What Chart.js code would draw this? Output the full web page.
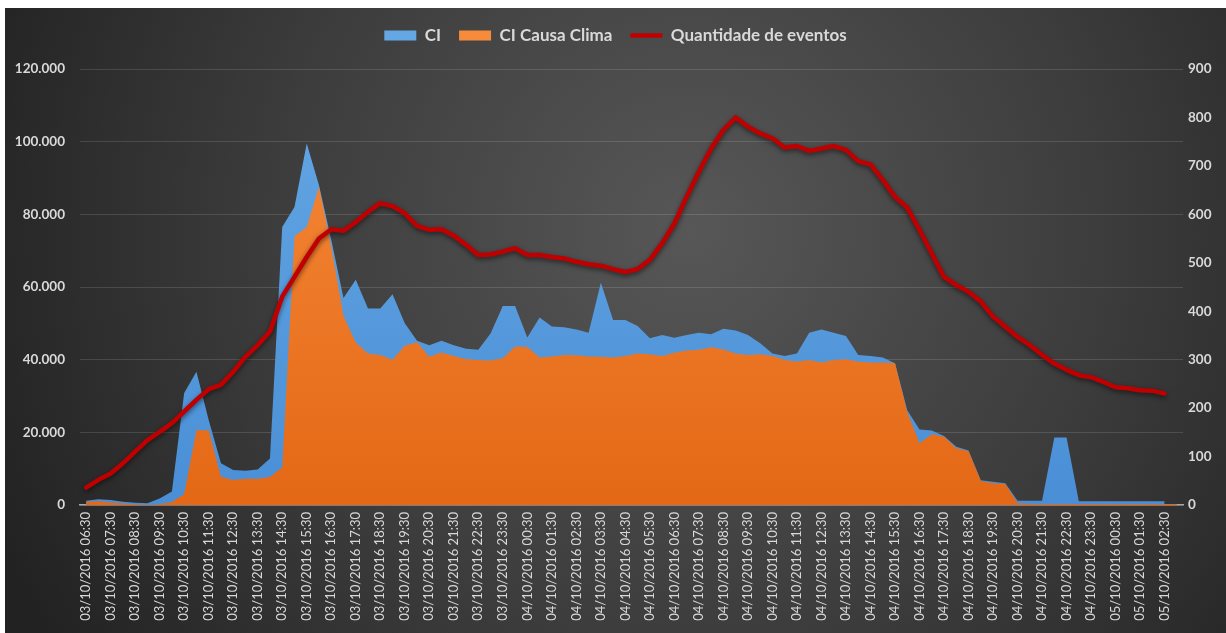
<!DOCTYPE html>
<html>
<head>
<meta charset="utf-8">
<script src="https://cdn.jsdelivr.net/npm/chart.js@4.4.0/dist/chart.umd.min.js"></script>
<style>
  html, body { margin: 0; padding: 0; background: #ffffff; }
  #wrap { width: 1226px; height: 633px; }
</style>
</head>
<body>
<div id="wrap"><canvas id="grafico" width="1226" height="633"></canvas></div>
<script>
// horarios (a cada 30 min)
const horarios = [
  "03/10/2016 06:30","03/10/2016 07:00","03/10/2016 07:30","03/10/2016 08:00","03/10/2016 08:30","03/10/2016 09:00",
  "03/10/2016 09:30","03/10/2016 10:00","03/10/2016 10:30","03/10/2016 11:00","03/10/2016 11:30","03/10/2016 12:00",
  "03/10/2016 12:30","03/10/2016 13:00","03/10/2016 13:30","03/10/2016 14:00","03/10/2016 14:30","03/10/2016 15:00",
  "03/10/2016 15:30","03/10/2016 16:00","03/10/2016 16:30","03/10/2016 17:00","03/10/2016 17:30","03/10/2016 18:00",
  "03/10/2016 18:30","03/10/2016 19:00","03/10/2016 19:30","03/10/2016 20:00","03/10/2016 20:30","03/10/2016 21:00",
  "03/10/2016 21:30","03/10/2016 22:00","03/10/2016 22:30","03/10/2016 23:00","03/10/2016 23:30",
  "04/10/2016 00:00","04/10/2016 00:30","04/10/2016 01:00","04/10/2016 01:30","04/10/2016 02:00","04/10/2016 02:30",
  "04/10/2016 03:00","04/10/2016 03:30","04/10/2016 04:00","04/10/2016 04:30","04/10/2016 05:00","04/10/2016 05:30",
  "04/10/2016 06:00","04/10/2016 06:30","04/10/2016 07:00","04/10/2016 07:30","04/10/2016 08:00","04/10/2016 08:30",
  "04/10/2016 09:00","04/10/2016 09:30","04/10/2016 10:00","04/10/2016 10:30","04/10/2016 11:00","04/10/2016 11:30",
  "04/10/2016 12:00","04/10/2016 12:30","04/10/2016 13:00","04/10/2016 13:30","04/10/2016 14:00","04/10/2016 14:30",
  "04/10/2016 15:00","04/10/2016 15:30","04/10/2016 16:00","04/10/2016 16:30","04/10/2016 17:00","04/10/2016 17:30",
  "04/10/2016 18:00","04/10/2016 18:30","04/10/2016 19:00","04/10/2016 19:30","04/10/2016 20:00","04/10/2016 20:30",
  "04/10/2016 21:00","04/10/2016 21:30","04/10/2016 22:00","04/10/2016 22:30","04/10/2016 23:00","04/10/2016 23:30",
  "05/10/2016 00:00","05/10/2016 00:30","05/10/2016 01:00","05/10/2016 01:30","05/10/2016 02:00","05/10/2016 02:30",
  "05/10/2016 03:00"
];

const ci = [
  1200, 1600, 1400, 900, 600, 500, 1800, 3700, 30800, 36700, 23400, 11500,
  9600, 9400, 9800, 12800, 76500, 82000, 99500, 88000, 73000, 57000, 62000, 54100,
  54100, 58000, 50000, 45200, 44000, 45200, 44000, 43000, 42700, 47200, 54800,
  54800, 46100, 51600, 49100, 48900, 48300, 47400, 61200, 50900, 50900, 49300,
  45900, 46800, 46000, 46800, 47400, 47000, 48500, 48000, 46800, 44500, 41700,
  41000, 41700, 47400, 48300, 47400, 46500, 41300, 41000, 40600, 39000, 26100,
  20800, 20500, 19000, 16000, 15000, 6800, 6400, 6000, 1200, 1200, 1200,
  18600, 18600, 1000, 1000, 1000, 1000, 1000, 1000, 1000, 1000, null
];

const ciClima = [
  900, 1000, 700, 400, 200, 100, 200, 800, 3000, 20600, 20600, 7800,
  6900, 7200, 7200, 7700, 10400, 74000, 76500, 87500, 71000, 52000, 44700, 41700,
  41300, 40000, 43800, 44800, 40800, 42000, 41000, 40100, 39900, 39800, 40400,
  43600, 43500, 40600, 40900, 41300, 41200, 40900, 40800, 40600, 41000, 41700,
  41500, 41000, 41900, 42500, 42700, 43400, 42800, 41700, 41300, 41500, 41000,
  39900, 39400, 39900, 39200, 39900, 40100, 39400, 39200, 39200, 39000, 25500,
  17000, 19500, 18800, 15600, 14800, 6600, 6000, 5800, 500, 300, 300,
  300, 300, 300, 300, 300, 300, 300, 300, 300, 300, 300
];

const eventos = [
  36, 52, 65, 86, 110, 134, 151, 169, 193, 217, 239, 248,
  275, 306, 330, 358, 430, 471, 512, 550, 569, 566, 584, 605,
  623, 617, 602, 576, 568, 569, 556, 537, 516, 517, 523,
  530, 516, 516, 512, 509, 502, 497, 494, 487, 481, 487,
  506, 540, 581, 636, 688, 736, 774, 800, 781, 767, 757,
  738, 741, 731, 736, 741, 733, 710, 703, 671, 636, 614,
  568, 519, 471, 454, 440, 420, 389, 368, 347, 330, 310,
  292, 279, 268, 264, 254, 243, 241, 237, 236, 230, null
];

const ticksCI = [0, 20000, 40000, 60000, 80000, 100000, 120000];
const ticksEventos = [0, 100, 200, 300, 400, 500, 600, 700, 800, 900];

Chart.defaults.font.family = 'Lato, "Open Sans", sans-serif';

function milhar(v) {
  return String(v).replace(/\B(?=(\d{3})+(?!\d))/g, '.');
}

function gradiente(c1, c2) {
  return function (ctx) {
    const area = ctx.chart.chartArea;
    if (!area) return c1;
    const g = ctx.chart.ctx.createLinearGradient(0, area.top, 0, area.bottom);
    g.addColorStop(0, c1);
    g.addColorStop(1, c2);
    return g;
  };
}

// fundo escuro com gradiente radial
const fundo = {
  id: 'fundo',
  beforeDraw(chart) {
    const ctx = chart.ctx;
    ctx.save();
    ctx.fillStyle = '#ffffff';
    ctx.fillRect(0, 0, chart.width, chart.height);
    const g = ctx.createRadialGradient(690, 230, 0, 690, 230, 760);
    g.addColorStop(0, '#575757');
    g.addColorStop(0.55, '#3c3c3c');
    g.addColorStop(1, '#222222');
    ctx.fillStyle = g;
    ctx.fillRect(5, 8, chart.width - 5, chart.height - 8);
    ctx.restore();
  }
};

// sombra na linha de eventos
const sombra = {
  id: 'sombra',
  beforeDatasetDraw(chart, args) {
    if (args.index !== 2) return;
    const ctx = chart.ctx;
    ctx.save();
    ctx.shadowColor = 'rgba(0,0,0,0.55)';
    ctx.shadowBlur = 5;
    ctx.shadowOffsetY = 2;
  },
  afterDatasetDraw(chart, args) {
    if (args.index !== 2) return;
    chart.ctx.restore();
  }
};

// altura fixa para a legenda
const alturaLegenda = {
  id: 'alturaLegenda',
  beforeInit(chart) {
    const fitOriginal = chart.legend.fit;
    chart.legend.fit = function () {
      fitOriginal.bind(chart.legend)();
      this.height = 60;
    };
  }
};

new Chart(document.getElementById('grafico'), {
  type: 'line',
  data: {
    labels: horarios,
    datasets: [
      {
        label: 'CI',
        data: ci,
        yAxisID: 'y',
        order: 3,
        fill: 'origin',
        backgroundColor: gradiente('#65a7e4', '#4a8fd6'),
        borderWidth: 0,
        pointRadius: 0,
        pointStyle: 'rect',
        tension: 0
      },
      {
        label: 'CI Causa Clima',
        data: ciClima,
        yAxisID: 'y',
        order: 2,
        fill: 'origin',
        backgroundColor: gradiente('#f68b3c', '#e46815'),
        borderWidth: 0,
        pointRadius: 0,
        pointStyle: 'rect',
        tension: 0
      },
      {
        label: 'Quantidade de eventos',
        data: eventos,
        yAxisID: 'y2',
        order: 1,
        fill: false,
        borderColor: '#c00000',
        borderWidth: 4.5,
        borderJoinStyle: 'round',
        borderCapStyle: 'round',
        pointRadius: 0,
        pointStyle: 'line',
        tension: 0
      }
    ]
  },
  options: {
    responsive: false,
    animation: false,
    layout: { padding: { left: 5, right: 0, top: 9, bottom: 0 } },
    plugins: {
      tooltip: { enabled: false },
      legend: {
        position: 'top',
        labels: {
          usePointStyle: true,
          pointStyleWidth: 32,
          boxHeight: 10,
          padding: 18,
          color: '#d9d9d9',
          font: { size: 17, weight: 'bold' },
          sort: (a, b) => a.datasetIndex - b.datasetIndex
        }
      }
    },
    scales: {
      x: {
        offset: true,
        grid: { display: false, drawTicks: false },
        border: { display: true, color: '#a8a8a8', width: 1.5 },
        ticks: {
          autoSkip: false,
          minRotation: 90,
          maxRotation: 90,
          padding: 7,
          color: '#d9d9d9',
          font: { size: 13 },
          callback: function (val, idx) {
            return idx % 2 === 0 ? this.getLabelForValue(val) : null;
          }
        },
        afterFit(scale) { scale.height = 128; }
      },
      y: {
        position: 'left',
        min: 0,
        max: 120000,
        afterBuildTicks(scale) { scale.ticks = ticksCI.map(v => ({ value: v })); },
        grid: { color: 'rgba(255,255,255,0.13)', drawTicks: false },
        border: { display: false },
        ticks: {
          padding: 15,
          color: '#d9d9d9',
          font: { size: 13.5, weight: 'bold' },
          callback: v => milhar(v)
        },
        afterFit(scale) { scale.width = 75; }
      },
      y2: {
        position: 'right',
        min: 0,
        max: 900,
        afterBuildTicks(scale) { scale.ticks = ticksEventos.map(v => ({ value: v })); },
        grid: { display: false, drawTicks: false },
        border: { display: false },
        ticks: {
          padding: 5,
          color: '#d9d9d9',
          font: { size: 13.5, weight: 'bold' }
        },
        afterFit(scale) { scale.width = 43; }
      }
    }
  },
  plugins: [fundo, sombra, alturaLegenda]
});
</script>
</body>
</html>
